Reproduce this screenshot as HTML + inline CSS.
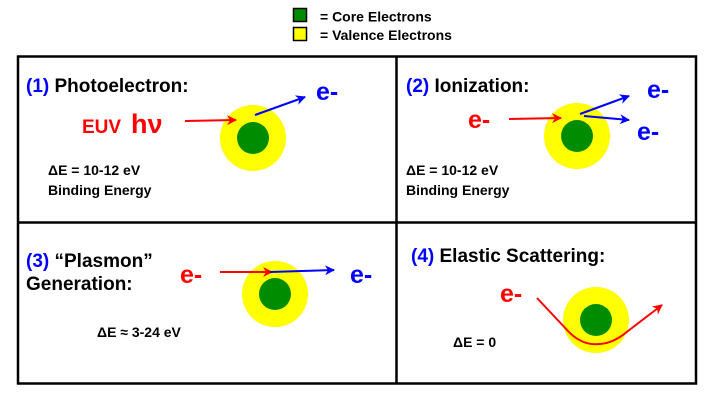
<!DOCTYPE html>
<html><head><meta charset="utf-8"><style>
html,body{margin:0;padding:0;background:#fff;width:720px;height:408px;overflow:hidden}
svg{display:block}
</style></head><body>
<svg width="720" height="408" viewBox="0 0 720 408" xmlns="http://www.w3.org/2000/svg" font-family="'Liberation Sans', Arial, sans-serif" font-weight="700" style="font-weight:700">
<defs>
<marker id="ar" viewBox="0 0 10 10" refX="9" refY="5" markerWidth="11" markerHeight="10" orient="auto" markerUnits="userSpaceOnUse"><path d="M0,0 L10,5 L0,10 L3,5 z" fill="#f00"/></marker>
<marker id="ab" viewBox="0 0 10 10" refX="9" refY="5" markerWidth="11" markerHeight="10" orient="auto" markerUnits="userSpaceOnUse"><path d="M0,0 L10,5 L0,10 L3,5 z" fill="#00f"/></marker>
</defs>
<!-- legend -->
<rect x="293.5" y="8.5" width="13" height="13" fill="#008c00" stroke="#000" stroke-width="1.5"/>
<rect x="293.5" y="27.5" width="13" height="13" fill="#ffff00" stroke="#000" stroke-width="1.5"/>
<text x="320" y="21.5" font-size="14" font-weight="700">= Core Electrons</text>
<text x="320" y="40" font-size="14" font-weight="700">= Valence Electrons</text>
<!-- frames -->
<g fill="none" stroke="#000" stroke-width="2.5">
<rect x="18" y="56.5" width="678" height="327"/>
<line x1="18" y1="222.5" x2="696" y2="222.5"/>
<line x1="396.5" y1="56" x2="396.5" y2="384"/>
</g>
<g font-weight="700">
<!-- panel 1 -->
<text x="26" y="92" font-size="19"><tspan fill="#0000ff">(1)</tspan> Photoelectron:</text>
<circle cx="253" cy="138" r="33" fill="#ffff00"/><circle cx="253" cy="138" r="16" fill="#008c00"/>
<line x1="185" y1="121" x2="236" y2="120" stroke="#f00" stroke-width="2" marker-end="url(#ar)"/>
<line x1="255" y1="115" x2="305" y2="97" stroke="#00f" stroke-width="2" marker-end="url(#ab)"/>
<text x="316" y="100" font-size="25" fill="#00f">e-</text>
<text x="82" y="133" font-size="19" fill="#f00">EUV</text>
<text x="131" y="133" font-size="27" fill="#f00">hν</text>
<text x="48" y="175" font-size="14">ΔE =  10-12 eV</text>
<text x="48" y="195" font-size="14">Binding Energy</text>
<!-- panel 2 -->
<text x="406" y="92" font-size="19"><tspan fill="#0000ff">(2)</tspan> Ionization:</text>
<circle cx="577" cy="136" r="33" fill="#ffff00"/><circle cx="577" cy="136" r="16" fill="#008c00"/>
<line x1="509" y1="119" x2="561" y2="118" stroke="#f00" stroke-width="2" marker-end="url(#ar)"/>
<line x1="580" y1="114" x2="629" y2="96" stroke="#00f" stroke-width="2" marker-end="url(#ab)"/>
<line x1="584" y1="116" x2="629" y2="120" stroke="#00f" stroke-width="2" marker-end="url(#ab)"/>
<text x="468" y="128" font-size="25" fill="#f00">e-</text>
<text x="647" y="98" font-size="25" fill="#00f">e-</text>
<text x="637" y="140" font-size="25" fill="#00f">e-</text>
<text x="406" y="175" font-size="14">ΔE =  10-12 eV</text>
<text x="406" y="195" font-size="14">Binding Energy</text>
<!-- panel 3 -->
<text x="26" y="267" font-size="19"><tspan fill="#0000ff">(3)</tspan> “Plasmon”</text>
<text x="26" y="290" font-size="19">Generation:</text>
<circle cx="275" cy="294" r="33" fill="#ffff00"/><circle cx="275" cy="294" r="16" fill="#008c00"/>
<line x1="220" y1="272" x2="272" y2="272" stroke="#f00" stroke-width="2" marker-end="url(#ar)"/>
<line x1="270" y1="272" x2="334" y2="270" stroke="#00f" stroke-width="2" marker-end="url(#ab)"/>
<text x="180" y="283" font-size="25" fill="#f00">e-</text>
<text x="350" y="283" font-size="25" fill="#00f">e-</text>
<text x="97" y="337" font-size="14">ΔE ≈ 3-24 eV</text>
<!-- panel 4 -->
<text x="411" y="262" font-size="19"><tspan fill="#0000ff">(4)</tspan> Elastic Scattering:</text>
<circle cx="596" cy="320" r="33" fill="#ffff00"/><circle cx="596" cy="320" r="16" fill="#008c00"/>
<path d="M537,298 L568,331 Q582,346 600,344 Q614,343 628,331 L662,305" fill="none" stroke="#f00" stroke-width="2" marker-end="url(#ar)"/>
<text x="500" y="302" font-size="25" fill="#f00">e-</text>
<text x="453" y="347" font-size="14">ΔE = 0</text>
</g>
</svg>
</body></html>
